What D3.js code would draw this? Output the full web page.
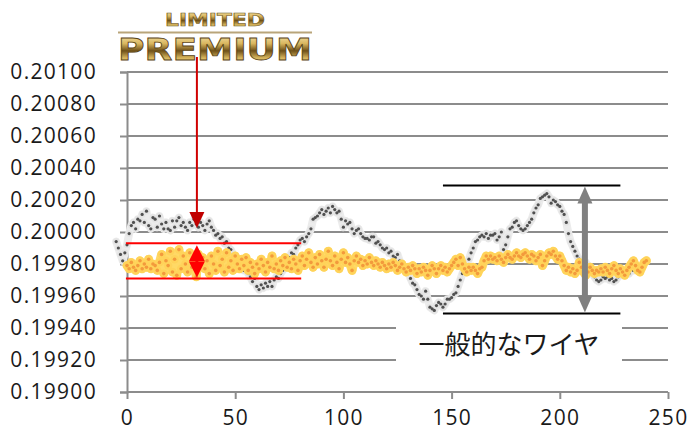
<!DOCTYPE html>
<html>
<head>
<meta charset="utf-8">
<script src="https://cdn.jsdelivr.net/npm/d3@7"></script>
<style>
  body { margin: 0; background: #fff; }
  .tick text { font-family: "Open Sans", sans-serif; fill: #1a1a1a; }
</style>
</head>
<body>
<div id="chart"></div>
<script>
// y tick values
var yTicks = [0.199, 0.1992, 0.1994, 0.1996, 0.1998, 0.2, 0.2002, 0.2004, 0.2006, 0.2008, 0.201];
var xTicks = [0, 50, 100, 150, 200, 250];

// ordinary wire, starts a few samples before 0
var grayStart = -5;
var grayValues = [
  0.19994, 0.19990, 0.19986, 0.19982, 0.19987, 0.19992, 0.19999, 0.20004, 0.20006, 0.20002,
  0.20008, 0.20007, 0.20011, 0.20006, 0.20013, 0.20004, 0.20002, 0.20009, 0.20008, 0.20003,
  0.20010, 0.20005, 0.20002, 0.20006, 0.20002, 0.20001, 0.20007, 0.20003, 0.20007, 0.20009,
  0.20004, 0.20006, 0.20003, 0.20001, 0.20006, 0.20004, 0.20008, 0.20005, 0.20003, 0.20006,
  0.20004, 0.20001, 0.20005, 0.20007, 0.20003, 0.20001, 0.19998, 0.19999, 0.19996, 0.19997,
  0.19993, 0.19994, 0.19990, 0.19989, 0.19986, 0.19984, 0.19981, 0.19983, 0.19979, 0.19976,
  0.19977, 0.19974, 0.19972, 0.19969, 0.19971, 0.19966, 0.19964, 0.19967, 0.19965, 0.19968,
  0.19966, 0.19969, 0.19966, 0.19970, 0.19972, 0.19971, 0.19974, 0.19976, 0.19979, 0.19978,
  0.19984, 0.19987, 0.19986, 0.19990, 0.19992, 0.19995, 0.19996, 0.19994, 0.19997, 0.19999,
  0.20002, 0.20008, 0.20009, 0.20010, 0.20012, 0.20014, 0.20011, 0.20013, 0.20015, 0.20012,
  0.20016, 0.20014, 0.20012, 0.20013, 0.20008, 0.20003, 0.20007, 0.20005, 0.20006, 0.20002,
  0.19999, 0.20001, 0.20002, 0.19999, 0.19997, 0.19996, 0.19996, 0.19995, 0.19997, 0.19997,
  0.19993, 0.19994, 0.19992, 0.19990, 0.19989, 0.19990, 0.19987, 0.19988, 0.19985, 0.19984,
  0.19986, 0.19982, 0.19980, 0.19978, 0.19977, 0.19975, 0.19971, 0.19968, 0.19967, 0.19964,
  0.19961, 0.19960, 0.19958, 0.19963, 0.19958, 0.19953, 0.19952, 0.19951, 0.19954, 0.19956,
  0.19955, 0.19953, 0.19955, 0.19958, 0.19958, 0.19959, 0.19961, 0.19962, 0.19966, 0.19970,
  0.19974, 0.19977, 0.19979, 0.19983, 0.19987, 0.19990, 0.19994, 0.19995, 0.19997, 0.19998,
  0.19997, 0.19999, 0.19996, 0.19998, 0.19998, 0.19999, 0.19995, 0.19997, 0.20000, 0.19989,
  0.19992, 0.19997, 0.20002, 0.20003, 0.20006, 0.20007, 0.20004, 0.20002, 0.20001, 0.20002,
  0.20004, 0.20006, 0.20008, 0.20012, 0.20015, 0.20017, 0.20021, 0.20022, 0.20023, 0.20024,
  0.20022, 0.20018, 0.20020, 0.20019, 0.20017, 0.20016, 0.20013, 0.20011, 0.20006, 0.19999,
  0.19994, 0.19991, 0.19988, 0.19985, 0.19983, 0.19980, 0.19978, 0.19981, 0.19979, 0.19976,
  0.19974, 0.19972, 0.19970, 0.19969, 0.19970, 0.19972, 0.19971, 0.19972, 0.19970, 0.19971,
  0.19969, 0.19970, 0.19972, 0.19974, 0.19973, 0.19975, 0.19976, 0.19974, 0.19977, 0.19976,
  0.19978
];

// LIMITED PREMIUM wire
var goldStart = 0;
var goldValues = [
  0.19979, 0.19977, 0.19981, 0.19978, 0.19976, 0.19979, 0.19982, 0.19977, 0.19980, 0.19978,
  0.19983, 0.19977, 0.19980, 0.19979, 0.19976, 0.19981, 0.19986, 0.19974, 0.19982, 0.19979,
  0.19988, 0.19975, 0.19983, 0.19973, 0.19989, 0.19977, 0.19985, 0.19980, 0.19975, 0.19987,
  0.19978, 0.19983, 0.19972, 0.19986, 0.19979, 0.19984, 0.19977, 0.19982, 0.19974, 0.19985,
  0.19980, 0.19976, 0.19988, 0.19979, 0.19983, 0.19975, 0.19987, 0.19978, 0.19982, 0.19976,
  0.19985, 0.19980, 0.19977, 0.19983, 0.19979, 0.19984, 0.19976, 0.19981, 0.19978, 0.19974,
  0.19980, 0.19977, 0.19983, 0.19979, 0.19975, 0.19981, 0.19978, 0.19985, 0.19977, 0.19980,
  0.19976, 0.19982, 0.19979, 0.19984, 0.19978, 0.19981, 0.19977, 0.19983, 0.19980, 0.19976,
  0.19982, 0.19985, 0.19979, 0.19983, 0.19987, 0.19981, 0.19978, 0.19984, 0.19980, 0.19986,
  0.19982, 0.19978, 0.19983, 0.19988, 0.19982, 0.19979, 0.19985, 0.19981, 0.19977, 0.19983,
  0.19987, 0.19981, 0.19984, 0.19980, 0.19976, 0.19982, 0.19985, 0.19981, 0.19983, 0.19979,
  0.19982, 0.19980, 0.19984, 0.19981, 0.19979, 0.19982, 0.19980, 0.19978, 0.19981, 0.19979,
  0.19977, 0.19980, 0.19978, 0.19981, 0.19979, 0.19976, 0.19978, 0.19980, 0.19977, 0.19975,
  0.19978, 0.19976, 0.19979, 0.19977, 0.19974, 0.19977, 0.19975, 0.19978, 0.19976, 0.19973,
  0.19976, 0.19979, 0.19977, 0.19974, 0.19977, 0.19979, 0.19976, 0.19978, 0.19975, 0.19977,
  0.19979, 0.19981, 0.19983, 0.19979, 0.19984, 0.19980, 0.19977, 0.19975, 0.19978, 0.19976,
  0.19978, 0.19976, 0.19974, 0.19977, 0.19978, 0.19982, 0.19985, 0.19983, 0.19985, 0.19983,
  0.19984, 0.19982, 0.19985, 0.19983, 0.19981, 0.19984, 0.19986, 0.19984, 0.19983, 0.19985,
  0.19987, 0.19985, 0.19984, 0.19986, 0.19987, 0.19985, 0.19983, 0.19986, 0.19985, 0.19982,
  0.19984, 0.19986, 0.19979, 0.19982, 0.19985, 0.19987, 0.19986, 0.19988, 0.19985, 0.19983,
  0.19985, 0.19982, 0.19979, 0.19976, 0.19978, 0.19975, 0.19977, 0.19974, 0.19976, 0.19981,
  0.19978, 0.19975, 0.19973, 0.19975, 0.19978, 0.19976, 0.19974, 0.19976, 0.19975, 0.19977,
  0.19975, 0.19978, 0.19976, 0.19974, 0.19977, 0.19979, 0.19976, 0.19974, 0.19977, 0.19975,
  0.19973, 0.19976, 0.19978, 0.19980, 0.19982, 0.19979, 0.19976, 0.19975, 0.19978, 0.19981,
  0.19982
];

// annotation levels
var bandLevels = [0.19993, 0.19971];   // red band round the premium wire
var bandSpan = [-0.5, 80.5];
var rangeLevels = [0.20029, 0.19949];  // black lines round the ordinary wire
var rangeSpan = [146, 228];
var redArrowX = 32.3;
var redArrowTip = 0.200025;
var grayArrowX = 211.6;
var labelText = "一般的なワイヤ";

var width = 690, height = 436;

var x = d3.scaleLinear().domain([0, 250]).range([127, 668]);
var y = d3.scaleLinear().domain([0.199, 0.201]).range([392, 72]);

var svg = d3.select('#chart').append('svg')
  .attr('width', width)
  .attr('height', height);

svg.append('rect').attr('width', width).attr('height', height).attr('fill', '#fff');

// gridlines
svg.append('g')
  .selectAll('line')
  .data(yTicks)
  .enter().append('line')
    .attr('x1', x(0)).attr('x2', x(250))
    .attr('y1', d => y(d)).attr('y2', d => y(d))
    .attr('stroke', '#8c8c8c')
    .attr('stroke-width', 2);

var yAxis = d3.axisLeft(y)
  .tickValues(yTicks)
  .tickFormat(d3.format('.5f'))
  .tickSize(7)
  .tickPadding(23);

var gy = svg.append('g')
  .attr('transform', 'translate(' + x(0) + ',0)')
  .call(yAxis);
gy.selectAll('text').attr('font-size', 21).attr('letter-spacing', 1.3);

var xAxis = d3.axisBottom(x)
  .tickValues(xTicks)
  .tickSize(7)
  .tickPadding(11);

var gx = svg.append('g')
  .attr('transform', 'translate(0,' + y(0.199) + ')')
  .call(xAxis);
gx.selectAll('text').attr('font-size', 21).attr('letter-spacing', 1.3);

[gx, gy].forEach(function(g) {
  g.select('.domain').attr('stroke', '#8c8c8c').attr('stroke-width', 2);
  g.selectAll('.tick line').attr('stroke', '#8c8c8c').attr('stroke-width', 2);
});
gx.select('.domain').remove();

function drawSeries(values, start, halo, ring, core, ringR, coreR, haloW) {
  var pts = values.map(function(v, i) { return [start + i, v]; });
  var line = d3.line().x(d => x(d[0])).y(d => y(d[1]));
  var g = svg.append('g');
  g.append('path')
    .attr('d', line(pts))
    .attr('fill', 'none')
    .attr('stroke', halo)
    .attr('stroke-width', haloW)
    .attr('stroke-linejoin', 'round')
    .attr('stroke-linecap', 'round');
  g.selectAll('circle.ring')
    .data(pts)
    .enter().append('circle')
      .attr('class', 'ring')
      .attr('cx', d => x(d[0]))
      .attr('cy', d => y(d[1]))
      .attr('r', ringR)
      .attr('fill', ring);
  g.selectAll('circle.core')
    .data(pts)
    .enter().append('circle')
      .attr('class', 'core')
      .attr('cx', d => x(d[0]))
      .attr('cy', d => y(d[1]))
      .attr('r', coreR)
      .attr('fill', core);
}

drawSeries(grayValues, grayStart, '#ececec', '#e4e4e4', '#505050', 3.3, 1.6, 8);
drawSeries(goldValues, goldStart, '#ffd966', '#ffd35a', '#f39a3c', 4.2, 1.8, 9);

// arrow head helper, tip at (cx, tipY), pointing up (dir=-1) or down (dir=1)
function head(g, cx, tipY, dir, w, h, color) {
  var b = tipY - dir * h;
  g.append('path')
    .attr('d', 'M' + cx + ',' + tipY + 'L' + (cx - w / 2) + ',' + b + 'L' + (cx + w / 2) + ',' + b + 'Z')
    .attr('fill', color);
}

var ann = svg.append('g');

// red band
bandLevels.forEach(function(v) {
  ann.append('line')
    .attr('x1', x(bandSpan[0])).attr('x2', x(bandSpan[1]))
    .attr('y1', y(v)).attr('y2', y(v))
    .attr('stroke', '#ff0000').attr('stroke-width', 2);
});
var rx = x(redArrowX);
ann.append('line')
  .attr('x1', rx).attr('x2', rx)
  .attr('y1', y(bandLevels[0]) + 10).attr('y2', y(bandLevels[1]) - 10)
  .attr('stroke', '#ff0000').attr('stroke-width', 3);
head(ann, rx, y(bandLevels[0]) + 2, -1, 16, 16, '#ff0000');
head(ann, rx, y(bandLevels[1]) - 1, 1, 16, 16, '#ff0000');

// red pointer from logo
ann.append('line')
  .attr('x1', rx).attr('x2', rx)
  .attr('y1', 57).attr('y2', y(redArrowTip) - 12)
  .attr('stroke', '#d00000').attr('stroke-width', 2);
head(ann, rx, y(redArrowTip), 1, 15, 16, '#c00000');

// black range lines and gray double arrow
rangeLevels.forEach(function(v) {
  ann.append('line')
    .attr('x1', x(rangeSpan[0])).attr('x2', x(rangeSpan[1]))
    .attr('y1', y(v)).attr('y2', y(v))
    .attr('stroke', '#000').attr('stroke-width', 2);
});
var gxp = x(grayArrowX);
ann.append('line')
  .attr('x1', gxp).attr('x2', gxp)
  .attr('y1', y(rangeLevels[0]) + 10).attr('y2', y(rangeLevels[1]) - 10)
  .attr('stroke', '#808080').attr('stroke-width', 6);
head(ann, gxp, y(rangeLevels[0]) + 1, -1, 15, 17, '#808080');
head(ann, gxp, y(rangeLevels[1]) - 1, 1, 15, 17, '#808080');

// label box
ann.append('rect')
  .attr('x', 396).attr('y', 318)
  .attr('width', 226).attr('height', 50)
  .attr('fill', '#fff');
ann.append('text')
  .attr('x', 509).attr('y', 342)
  .attr('text-anchor', 'middle')
  .attr('dominant-baseline', 'central')
  .attr('font-family', '"Noto Sans CJK JP", sans-serif')
  .attr('font-size', 26)
  .attr('fill', '#1a1a1a')
  .text(labelText);

// logo
var defs = svg.append('defs');
var grad = defs.append('linearGradient')
  .attr('id', 'gold').attr('x1', 0).attr('y1', 0).attr('x2', 0).attr('y2', 1);
[['0%', '#fff4c8'], ['35%', '#d9b65e'], ['55%', '#6e5018'], ['75%', '#d7b55c'], ['100%', '#f6e4a0']]
  .forEach(function(s) { grad.append('stop').attr('offset', s[0]).attr('stop-color', s[1]); });

var logo = svg.append('g');
logo.append('text')
  .attr('x', 165).attr('y', 26)
  .attr('textLength', 100).attr('lengthAdjust', 'spacingAndGlyphs')
  .attr('font-family', '"DejaVu Sans", sans-serif')
  .attr('font-weight', 'bold')
  .attr('font-size', 18)
  .attr('fill', 'url(#gold)')
  .attr('stroke', '#6b5320').attr('stroke-width', 0.6)
  .text('LIMITED');
logo.append('line')
  .attr('x1', 118).attr('x2', 312)
  .attr('y1', 32.5).attr('y2', 32.5)
  .attr('stroke', '#b9a57a').attr('stroke-width', 2);
logo.append('text')
  .attr('x', 118).attr('y', 60)
  .attr('textLength', 194).attr('lengthAdjust', 'spacingAndGlyphs')
  .attr('font-family', '"DejaVu Sans", sans-serif')
  .attr('font-weight', 'bold')
  .attr('font-size', 31)
  .attr('fill', 'url(#gold)')
  .attr('stroke', '#5a4416').attr('stroke-width', 0.8)
  .text('PREMIUM');
</script>
</body>
</html>
